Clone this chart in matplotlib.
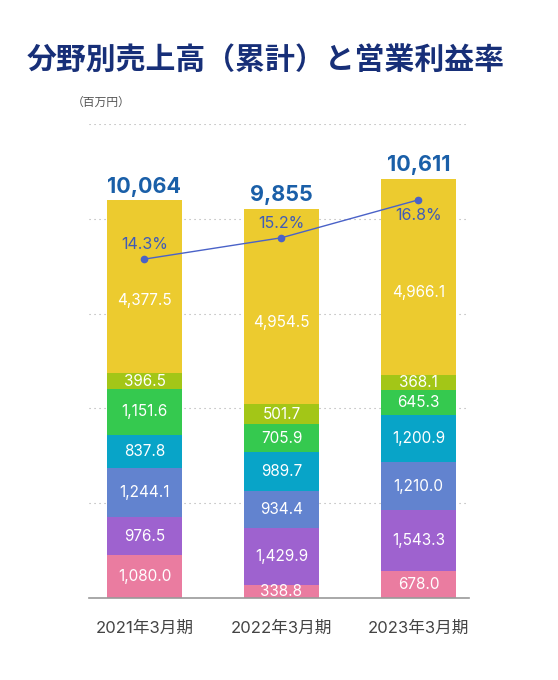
import matplotlib
matplotlib.use('Agg')
import matplotlib.pyplot as plt
import numpy as np

plt.rcParams['font.family'] = ['Inter', 'Noto Sans CJK JP', 'DejaVu Sans']

# ---- data ----
periods = ['2021年3月期', '2022年3月期', '2023年3月期']
segment_values = [
    [1080.0, 338.8, 678.0],
    [976.5, 1429.9, 1543.3],
    [1244.1, 934.4, 1210.0],
    [837.8, 989.7, 1200.9],
    [1151.6, 705.9, 645.3],
    [396.5, 501.7, 368.1],
    [4377.5, 4954.5, 4966.1],
]
segment_colors = ['#EA7CA0', '#9E62CF', '#6283CF', '#08A4C8', '#35C94F', '#A3C617', '#ECCB2F']
totals = [10064, 9855, 10611]
margin_pct = [14.3, 15.2, 16.8]

fig = plt.figure(figsize=(5.58, 6.8), dpi=100)
ax = fig.add_axes([89 / 558, 82 / 680, 380 / 558, 474 / 680])

x = np.arange(len(periods))
width = 0.547
bottom = np.zeros(len(periods))
for i, (vals, col) in enumerate(zip(segment_values, segment_colors)):
    vals = np.array(vals)
    ax.bar(x, vals, width, bottom=bottom, color=col, zorder=2)
    frac = 0.42 if i == len(segment_values) - 1 else 0.5
    for xi, b, v in zip(x, bottom, vals):
        ax.text(xi, b + v * frac, f'{v:,.1f}', ha='center', va='center',
                color='white', fontsize=11, zorder=3)
    bottom += vals

for xi, tot in zip(x, totals):
    ax.text(xi, tot + 350, f'{tot:,}', ha='center', va='center',
            color='#1A5FA8', fontsize=15.5, fontweight='bold')

ax.set_xlim(-0.405, 2.369)
ax.set_ylim(0, 12000)
ax.set_yticks(np.arange(2400, 12001, 2400))
ax.yaxis.grid(True, linestyle=(0, (1, 3.5)), color='#aaaaaa', linewidth=0.8, zorder=0)
for s in ['top', 'right', 'left']:
    ax.spines[s].set_visible(False)
ax.spines['bottom'].set_color('#999999')
ax.spines['bottom'].set_linewidth(1.2)
ax.spines['bottom'].set_zorder(4)
ax.set_xticks(x)
ax.set_xticklabels(periods, fontsize=12, color='#444444')

ax2 = ax.twinx()
ax2.set_ylim(0, 20)
ax2.plot(x, margin_pct, color='#4A62C8', linewidth=1, marker='o', markersize=4.5, zorder=5)
for xi, p in zip(x, margin_pct):
    dy = -0.65 if xi == 2 else 0.6
    ax2.text(xi, p + dy, f'{p:.1f}%', ha='center', va='center', color='#3F5BB8', fontsize=11.5)
ax2.axis('off')

ax.tick_params(left=False, labelleft=False, right=False, labelright=False, bottom=False)
ax.tick_params(axis='x', pad=13)

fig.text(266 / 558, 1 - 60 / 680, '分野別売上高（累計）と営業利益率', ha='center', va='center',
         fontsize=21.5, fontweight='bold', color='#172F78')
fig.text(72 / 558, 1 - 103 / 680, '（百万円）', ha='left', va='center', fontsize=8.5, color='#555555')

fig.savefig('out.png', dpi=100)
